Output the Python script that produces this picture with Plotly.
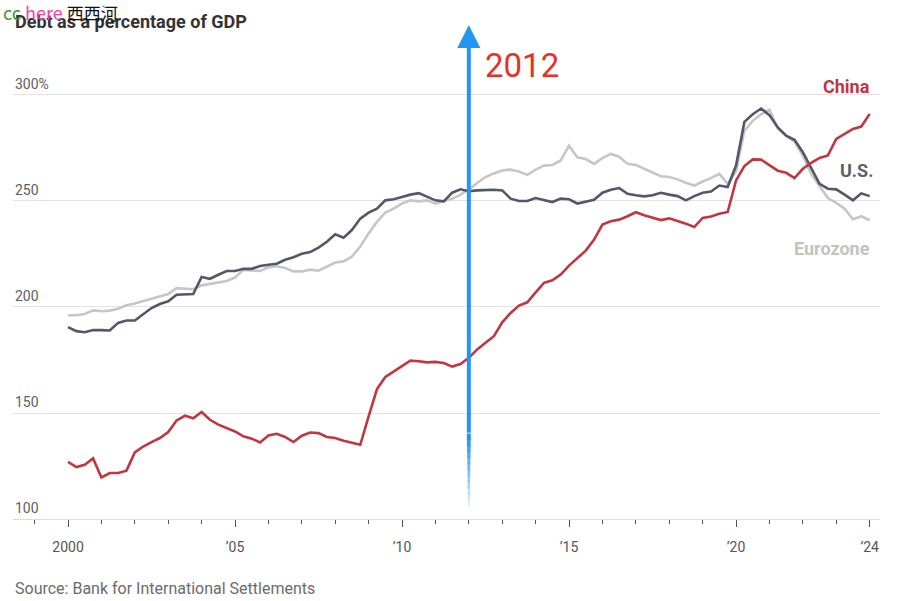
import plotly.graph_objects as go

# ---------------- data (quarterly, 2000Q1 .. 2024Q1) ----------------
start_year = 2000
china = [
    126.9, 124.5, 125.6, 128.6,
    119.6, 121.7, 121.7, 122.8,
    131.4, 134.2, 136.3, 138.2,
    141.0, 146.5, 148.7, 147.5,
    150.5, 146.8, 144.5, 142.9,
    141.3, 139.0, 137.9, 136.1,
    139.4, 140.2, 138.7, 136.3,
    139.3, 140.8, 140.5, 138.7,
    138.2, 136.9, 135.8, 135.0,
    148.4, 161.3, 167.0, 169.6,
    172.5, 174.7, 174.4, 173.9,
    174.1, 173.6, 171.9, 173.1,
    176.0, 180.0, 183.1, 186.2,
    192.8, 197.2, 200.7, 202.2,
    206.9, 211.4, 212.6, 215.3,
    219.5, 223.2, 226.6, 231.8,
    238.9, 240.4, 241.2, 242.8,
    244.7, 243.3, 242.0, 241.0,
    241.8, 240.6, 239.3, 237.7,
    242.0, 242.7, 244.0, 244.8,
    259.7, 266.5, 269.6, 269.5,
    266.8, 264.3, 263.3, 260.8,
    265.2, 268.0, 270.3, 271.5,
    279.3, 281.7, 284.0, 285.1,
    291.1,
]
us = [
    190.5, 188.6, 188.1, 189.1,
    189.1, 188.9, 192.5, 193.6,
    193.6, 196.4, 199.5, 201.4,
    202.7, 205.8, 206.1, 206.1,
    214.2, 213.3, 215.2, 217.0,
    217.0, 218.0, 218.0, 219.3,
    219.9, 220.4, 222.3, 223.5,
    225.1, 225.9, 228.0, 230.8,
    234.3, 232.7, 236.3, 241.7,
    244.5, 246.4, 250.3, 250.8,
    251.9, 253.0, 253.7, 251.9,
    250.3, 249.8, 253.9, 255.5,
    254.6, 255.0, 255.3, 255.3,
    255.0, 251.1, 250.0, 250.0,
    251.4, 250.6, 249.5, 251.1,
    250.8, 248.8, 249.8, 250.6,
    253.9, 255.3, 256.1, 253.4,
    252.7, 252.2, 252.7, 253.9,
    253.0, 252.3, 250.3, 252.3,
    253.9, 254.5, 257.3, 256.6,
    266.7, 287.3, 290.9, 293.6,
    290.5, 284.7, 280.8, 278.9,
    273.0, 265.2, 258.1, 255.8,
    255.5, 253.0, 250.3, 253.6,
    252.3,
]
eurozone = [
    196.1, 196.1, 196.7, 198.4,
    198.0, 198.3, 199.2, 200.8,
    201.6, 202.7, 203.9, 204.7,
    206.1, 208.9, 208.6, 208.4,
    210.2, 210.8, 211.6, 212.3,
    213.9, 217.5, 217.2, 217.0,
    218.7, 219.2, 218.4, 216.8,
    216.8, 217.6, 217.1, 219.2,
    221.0, 221.5, 223.8, 228.5,
    234.7, 240.2, 244.5, 246.4,
    248.8, 250.3, 249.8, 250.3,
    248.7, 250.0, 251.0, 253.0,
    255.5, 258.5, 261.3, 263.0,
    264.4, 264.8, 263.9, 262.3,
    264.8, 266.7, 267.0, 269.1,
    276.1, 270.6, 269.8, 267.5,
    270.2, 272.2, 270.9, 267.5,
    267.0, 265.2, 263.3, 261.7,
    261.3, 260.2, 258.6, 257.3,
    259.2, 260.8, 262.8, 258.1,
    264.0, 283.1, 287.8, 290.9,
    293.0, 284.2, 280.8, 278.0,
    271.4, 262.8, 257.0, 251.4,
    249.1, 246.4, 241.4, 242.8,
    240.9,
]
x_tick_vals = [2000, 2005, 2010, 2015, 2020, 2024]
x_tick_text = ["2000", "\u201905", "\u201910", "\u201915", "\u201920", "\u201924"]
y_tick_vals = [100, 150, 200, 250, 300]
y_tick_text = ["100", "150", "200", "250", "300%"]
highlight_year = 2012

# quarter positions on a numeric time axis
quarters = [start_year + i / 4 for i in range(len(china))]

C_CHINA = "#c1363f"
C_US = "#525869"
C_EURO = "#c6c6c6"
FONT = "Roboto, Liberation Sans, Arial, sans-serif"

fig = go.Figure()
fig.add_trace(go.Scatter(x=quarters, y=eurozone, mode="lines", name="Eurozone",
                         line=dict(color=C_EURO, width=2.6), hoverinfo="skip"))
fig.add_trace(go.Scatter(x=quarters, y=us, mode="lines", name="U.S.",
                         line=dict(color=C_US, width=2.6), hoverinfo="skip"))
fig.add_trace(go.Scatter(x=quarters, y=china, mode="lines", name="China",
                         line=dict(color=C_CHINA, width=2.6), hoverinfo="skip"))

Y_MIN, Y_MAX = 100, 316.5
annotations = []
# y tick labels, sitting above their gridlines at the left edge
for v, t in zip(y_tick_vals, y_tick_text):
    annotations.append(dict(xref="paper", x=0, yref="y", y=v, text=t, showarrow=False,
                            xanchor="left", yanchor="bottom", yshift=1,
                            font=dict(family=FONT, size=14, color="#5e5e5e")))

# series labels
for txt, yv, col, xs in [("China", 303.8, C_CHINA, -8), ("U.S.", 264.6, "#5e5f68", -5),
                         ("Eurozone", 227.8, "#c2c2c2", -8)]:
    annotations.append(dict(xref="paper", x=1, yref="y", y=yv, text="<b>%s</b>" % txt,
                            showarrow=False, xanchor="right", yanchor="middle", xshift=xs,
                            font=dict(family=FONT, size=18, color=col)))

# highlight arrow at 2012
annotations.append(dict(x=highlight_year, y=333, xref="x", yref="y",
                        ax=highlight_year, ay=140, axref="x", ayref="y",
                        text="", showarrow=True, arrowhead=2, arrowsize=1.15,
                        arrowwidth=4, arrowcolor="#2196f3", standoff=0))
annotations.append(dict(x=highlight_year, y=313.7, xref="x", yref="y",
                        text="2012", showarrow=False, xanchor="left", yanchor="middle",
                        xshift=14, font=dict(family=FONT, size=33, color="#e8302a")))

# title, source and watermark
annotations.append(dict(xref="paper", x=0, yref="paper", y=1, yshift=39,
                        text="<b>Debt as a percentage of GDP</b>",
                        showarrow=False, xanchor="left", yanchor="middle",
                        font=dict(family=FONT, size=18, color="#333333")))
annotations.append(dict(xref="paper", x=0, yref="paper", y=0, yshift=-69,
                        text="Source: Bank for International Settlements",
                        showarrow=False, xanchor="left", yanchor="middle",
                        font=dict(family=FONT, size=16, color="#6b6b6b")))
annotations.append(dict(xref="paper", x=0, xshift=-12, yref="paper", y=1, yshift=48,
                        text="<span style='color:#3a9b3a'>cc</span> <span style='color:#ff3d9e'>here</span> "
                             "<span style='color:#111111;font-size:17px'>西西河</span>",
                        showarrow=False, xanchor="left", yanchor="middle",
                        font=dict(family="Noto Sans CJK SC, " + FONT, size=18)))

# fading lower part of the arrow shaft
shapes = []
fade_top, fade_bottom, n = 140, 106, 12
step = (fade_top - fade_bottom) / n
for k in range(n):
    y1 = fade_top - k * step
    y0 = y1 - step
    shapes.append(dict(type="line", xref="x", yref="y", x0=highlight_year, x1=highlight_year,
                       y0=y0, y1=y1 + 0.3, line=dict(color="#2196f3", width=4 - 2.5 * k / n),
                       opacity=1 - k / n * 0.9, layer="above"))

fig.update_layout(
    width=900, height=601,
    margin=dict(l=13, r=20, t=60, b=82),
    paper_bgcolor="white", plot_bgcolor="white",
    showlegend=False,
    annotations=annotations, shapes=shapes,
    xaxis=dict(range=[1998.353, 2024.31], tickvals=x_tick_vals, ticktext=x_tick_text,
               ticks="outside", ticklen=7, tickwidth=1, tickcolor="#555555",
               ticklabelstandoff=8,
               minor=dict(dtick=1, tick0=2000, ticks="outside", ticklen=4, tickcolor="#555555",
                          showgrid=False),
               showgrid=False, zeroline=False, showline=True, linecolor="#dddddd", linewidth=1,
               tickfont=dict(family=FONT, size=14, color="#555555")),
    yaxis=dict(range=[Y_MIN, Y_MAX], tickvals=y_tick_vals, showticklabels=False,
               showgrid=True, gridcolor="#e3e3e3", gridwidth=1, zeroline=False, showline=False,
               ticks=""),
)

fig.write_html("out.html", config={"displayModeBar": False},
               post_script="document.body.style.margin='0';document.body.style.padding='0';")
